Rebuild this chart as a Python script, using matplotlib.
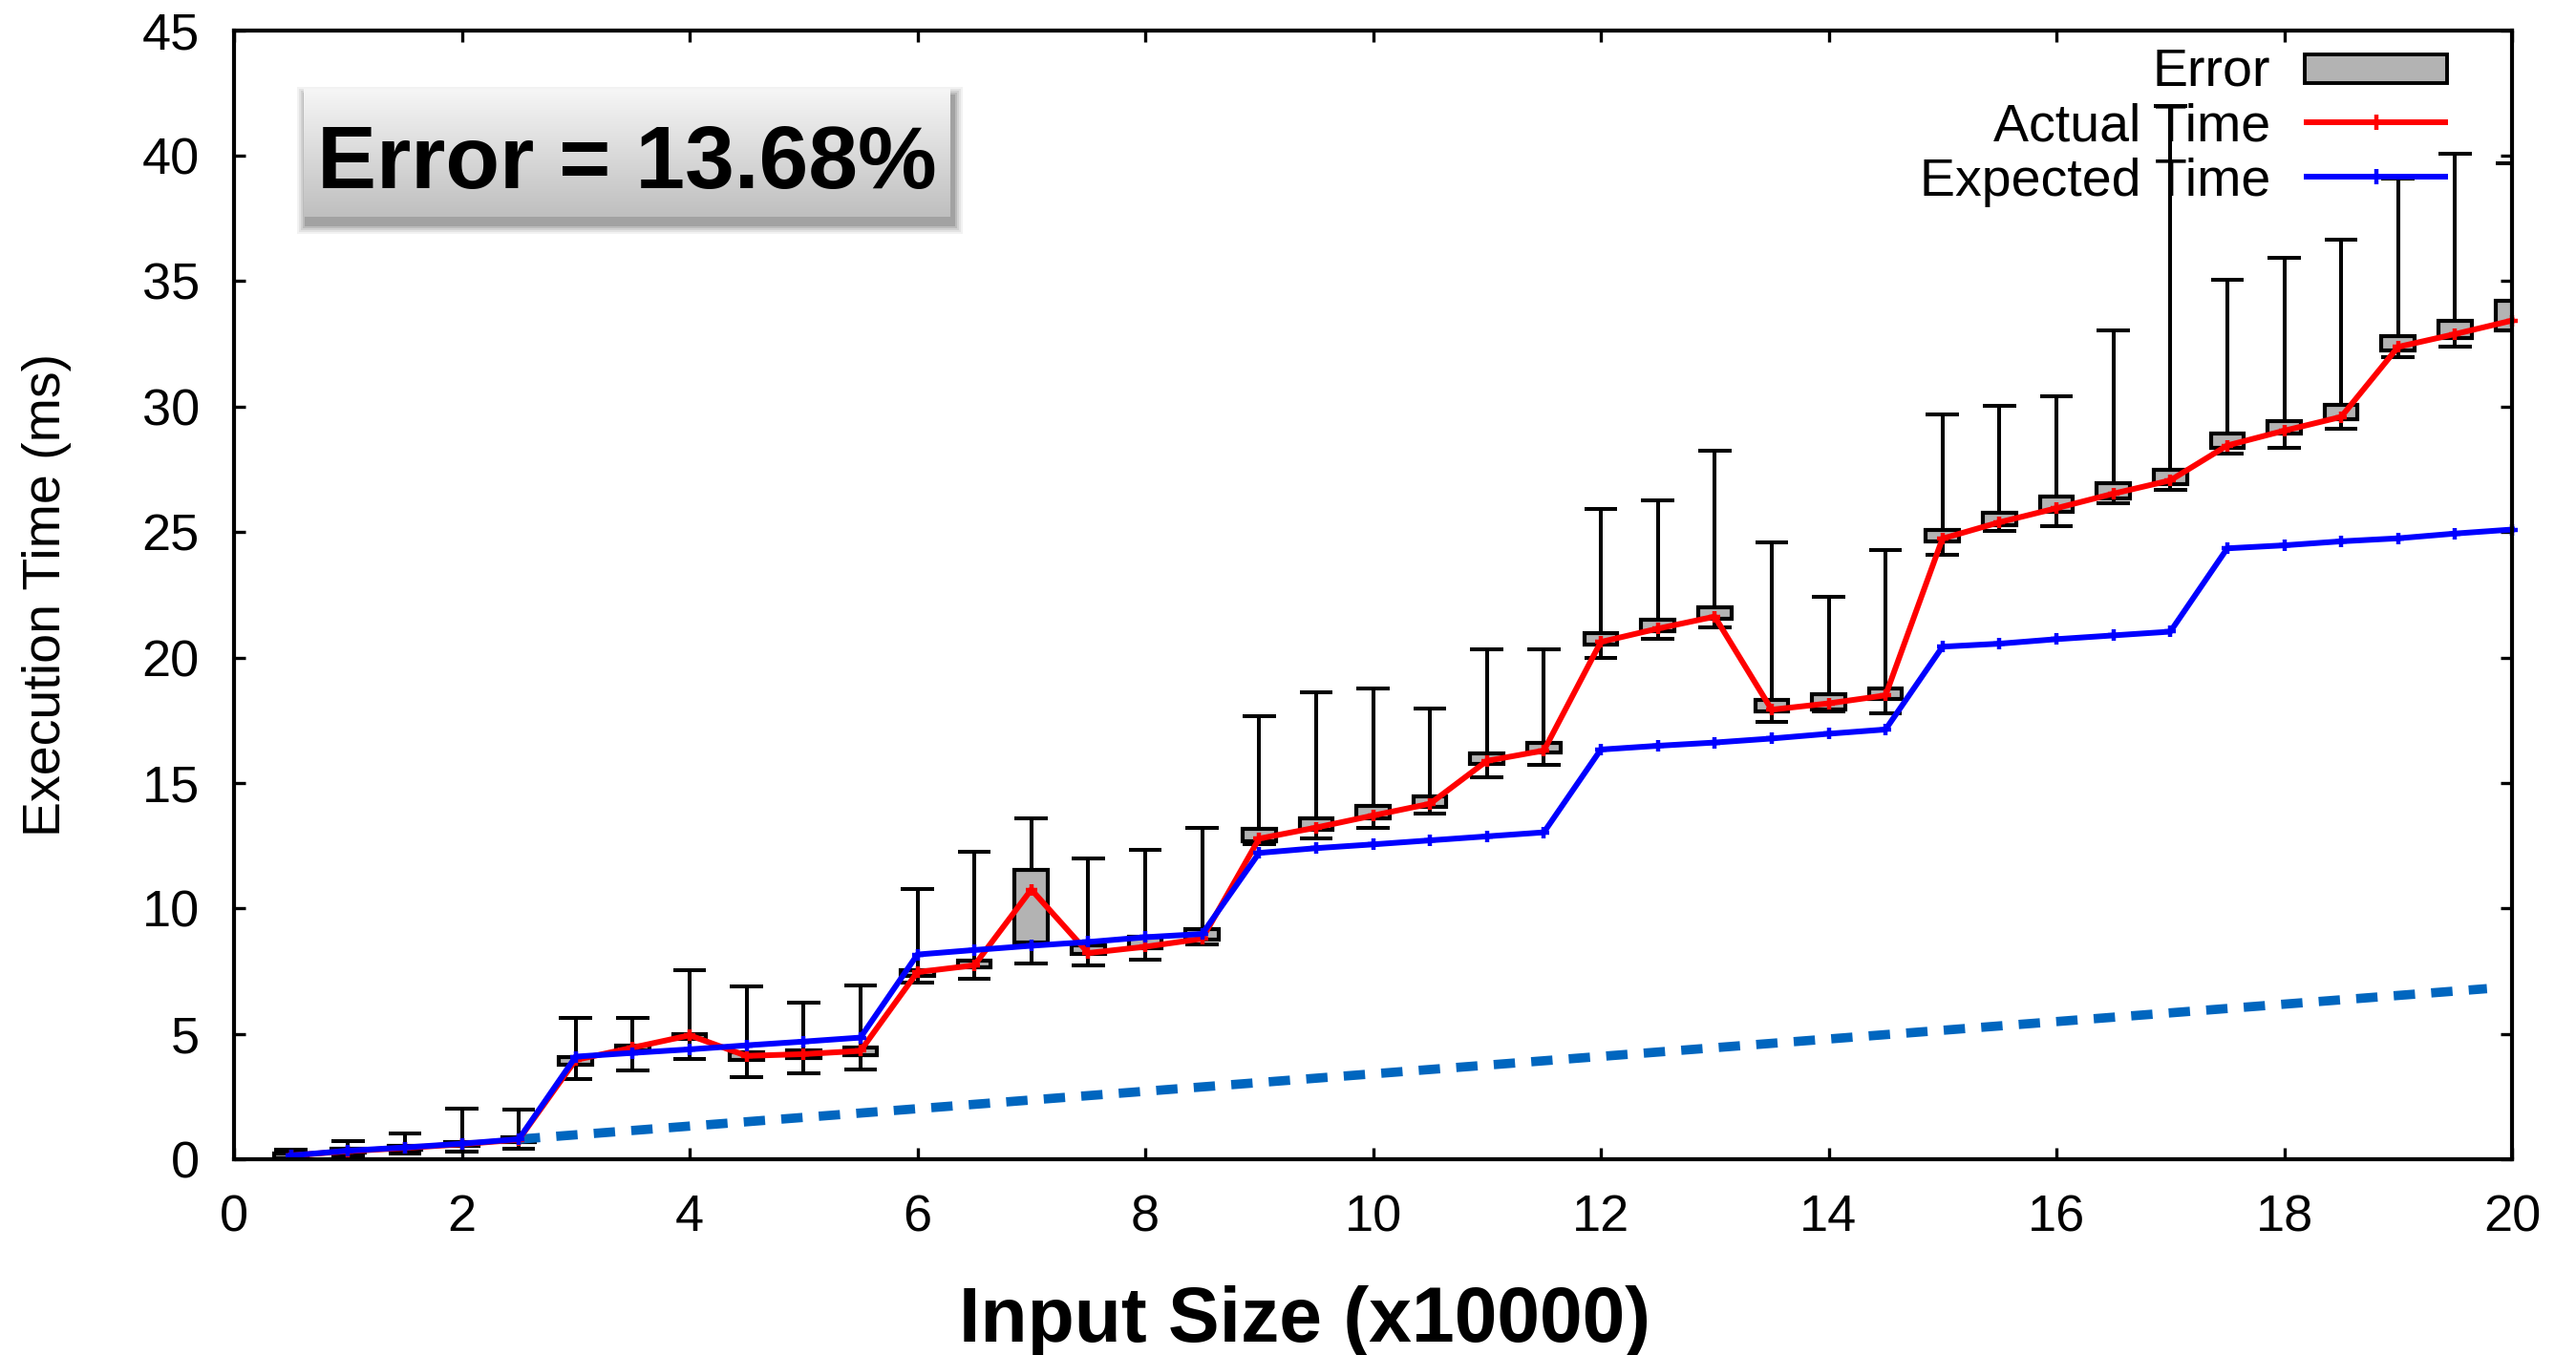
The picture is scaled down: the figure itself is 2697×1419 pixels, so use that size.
import numpy as np
import matplotlib
matplotlib.use("Agg")
import matplotlib.pyplot as plt
from matplotlib.patches import Rectangle
from matplotlib.lines import Line2D
from matplotlib.colors import LinearSegmentedColormap

plt.rcParams['font.family'] = ['Liberation Sans', 'DejaVu Sans']

# ---------------- data ----------------
input_size = [0.5, 1.0, 1.5, 2.0, 2.5, 3.0, 3.5, 4.0, 4.5, 5.0,
              5.5, 6.0, 6.5, 7.0, 7.5, 8.0, 8.5, 9.0, 9.5, 10.0,
              10.5, 11.0, 11.5, 12.0, 12.5, 13.0, 13.5, 14.0, 14.5, 15.0,
              15.5, 16.0, 16.5, 17.0, 17.5, 18.0, 18.5, 19.0, 19.5, 20.0]

actual_time = [0.15, 0.32, 0.45, 0.60, 0.78, 3.96, 4.45, 4.94, 4.12, 4.19,
               4.32, 7.46, 7.73, 10.75, 8.22, 8.47, 8.79, 12.78, 13.22, 13.70,
               14.17, 15.88, 16.29, 20.62, 21.15, 21.63, 17.92, 18.17, 18.49, 24.74,
               25.39, 25.95, 26.53, 27.06, 28.45, 29.04, 29.59, 32.38, 32.89, 33.43]

expected_time = [0.15, 0.34, 0.47, 0.62, 0.80, 4.09, 4.24, 4.38, 4.54, 4.69,
                 4.85, 8.16, 8.34, 8.51, 8.66, 8.85, 8.98, 12.21, 12.40, 12.55,
                 12.71, 12.87, 13.03, 16.33, 16.48, 16.61, 16.77, 16.96, 17.13, 20.43,
                 20.55, 20.73, 20.88, 21.03, 24.35, 24.47, 24.63, 24.75, 24.94, 25.10]

box_low = [0.05, 0.25, 0.38, 0.55, 0.70, 3.77, 4.35, 4.79, 3.94, 4.03,
           4.16, 7.30, 7.65, 8.63, 8.18, 8.43, 8.75, 12.69, 13.13, 13.60,
           14.05, 15.76, 16.20, 20.51, 21.05, 21.53, 17.85, 17.94, 18.36, 24.63,
           25.29, 25.80, 26.34, 26.90, 28.37, 28.94, 29.48, 32.23, 32.74, 33.05]

box_high = [0.22, 0.40, 0.55, 0.70, 0.86, 4.09, 4.54, 5.00, 4.26, 4.35,
            4.47, 7.52, 7.92, 11.54, 8.53, 8.85, 9.17, 13.16, 13.58, 14.08,
            14.46, 16.17, 16.58, 20.97, 21.49, 21.99, 18.32, 18.52, 18.76, 25.10,
            25.77, 26.43, 26.93, 27.48, 28.91, 29.44, 30.08, 32.80, 33.40, 34.20]

whisker_low = [0.02, 0.15, 0.22, 0.32, 0.41, 3.18, 3.55, 4.00, 3.27, 3.43,
               3.56, 7.04, 7.18, 7.80, 7.73, 7.96, 8.56, 12.55, 12.78, 13.20,
               13.79, 15.22, 15.72, 19.97, 20.73, 21.21, 17.43, 17.85, 17.79, 24.10,
               25.04, 25.24, 26.15, 26.69, 28.14, 28.37, 29.12, 31.98, 32.38, 33.05]

whisker_high = [0.38, 0.74, 1.04, 2.02, 1.98, 5.62, 5.65, 7.55, 6.89, 6.23,
                6.93, 10.76, 12.27, 13.58, 11.98, 12.33, 13.22, 17.66, 18.61, 18.76,
                17.95, 20.34, 20.34, 25.93, 26.28, 28.25, 24.60, 22.42, 24.29, 29.70,
                30.02, 30.40, 33.05, 42.00, 35.04, 35.93, 36.64, 39.10, 40.09, 39.70]

trend_x = [2.5, 19.78]
trend_y = [0.8, 6.8]

x_ticks = [0, 2, 4, 6, 8, 10, 12, 14, 16, 18, 20]
y_ticks = [0, 5, 10, 15, 20, 25, 30, 35, 40, 45]

legend_labels = ["Error", "Actual Time", "Expected Time"]
error_text = "Error = 13.68%"
x_label = "Input Size (x10000)"
y_label = "Execution Time (ms)"

# ---------------- figure ----------------
W, H = 2697, 1419
fig = plt.figure(figsize=(W / 100, H / 100), dpi=100)
fig.patch.set_facecolor('white')


def fx(px):
    return px / W


def fy(py):
    return 1 - py / H


ax = fig.add_axes([fx(245), fy(1214), (2630 - 245) / W, (1214 - 31.7) / H])

xs = np.array(input_size)
bl = np.array(box_low)
bh = np.array(box_high)
wl = np.array(whisker_low)
wh = np.array(whisker_high)
bw = 0.29
LW_LINE = 4.3
LW_WH = 2.9

# candlesticks
ax.vlines(xs, bh, wh, color='black', lw=LW_WH, zorder=2)
ax.vlines(xs, wl, bl, color='black', lw=LW_WH, zorder=2)
ax.hlines(wh, xs - bw / 2, xs + bw / 2, color='black', lw=LW_WH, zorder=2)
ax.hlines(wl, xs - bw / 2, xs + bw / 2, color='black', lw=LW_WH, zorder=2)
ax.bar(xs, bh - bl, bottom=bl, width=bw, color='#b3b3b3', edgecolor='black',
       linewidth=3.0, zorder=3)

# trend (dashed)
ax.plot(trend_x, trend_y, color='#0066BF', lw=7, dashes=(2.3, 1.75),
        solid_capstyle='butt', dash_capstyle='butt', zorder=4)

# lines
ax.plot(xs, actual_time, color='#ff0000', lw=LW_LINE, marker='+', ms=9, mew=3.2,
        zorder=5, clip_on=False)
ax.plot(xs, expected_time, color='#0000ff', lw=LW_LINE, marker='+', ms=9, mew=3.2,
        zorder=6, clip_on=False)

ax.set_xlim(0, 20)
ax.set_ylim(0, 45)
ax.set_xticks(x_ticks)
ax.set_yticks(y_ticks)
ax.tick_params(direction='in', length=8.6, width=2.4, top=True, right=True,
               labelsize=39, pad=26, colors='black')
for sp in ax.spines.values():
    sp.set_linewidth(3.0)
    sp.set_zorder(10)

# axis labels
fig.text(fx(49), fy(623), y_label, rotation=90, ha='center', va='center',
         fontsize=40)
fig.text(fx(1366), fy(1405), x_label, ha='center', va='baseline',
         fontsize=58, fontweight='bold')

# ---------------- legend (manual) ----------------
text_right = 2377
baselines = [90, 148, 205]
for lab, b in zip(legend_labels, baselines):
    fig.text(fx(text_right), fy(b), lab, ha='right', va='baseline', fontsize=40,
             zorder=20)
fig.add_artist(Rectangle((fx(2413), fy(87)), (2562 - 2413) / W, 30 / H,
                         transform=fig.transFigure, facecolor='#b3b3b3',
                         edgecolor='black', lw=2.8, zorder=20))
for yy, col in [(128, '#ff0000'), (185, '#0000ff')]:
    fig.add_artist(Line2D([fx(2415), fx(2560)], [fy(yy), fy(yy)],
                          transform=fig.transFigure, color=col, lw=LW_LINE,
                          zorder=20))
    fig.add_artist(Line2D([fx(2488)], [fy(yy)], transform=fig.transFigure,
                          color=col, marker='+', ms=11, mew=3.2, lw=0,
                          zorder=21))

# ---------------- "Error = ..." gradient box ----------------
bx0, by0, bx1, by1 = 318, 93, 995, 227
# soft shadow
for i, a in enumerate([0.05, 0.06, 0.08, 0.10, 0.13]):
    grow = 10 - 2 * i
    fig.add_artist(Rectangle((fx(bx0 - grow + 3), fy(by1 + 8 + grow)),
                             (bx1 - bx0 + 2 * grow) / W,
                             (by1 - by0 + 2 * grow) / H,
                             transform=fig.transFigure, facecolor='black',
                             edgecolor='none', alpha=a, zorder=14))
bx = fig.add_axes([fx(bx0), fy(by1), (bx1 - bx0) / W, (by1 - by0) / H])
bx.set_zorder(15)
cmap = LinearSegmentedColormap.from_list('g', ['#bfbfbf', '#f6f6f6'])
grad = np.linspace(0, 1, 256).reshape(-1, 1)
bx.imshow(grad, aspect='auto', cmap=cmap, origin='lower', extent=[0, 1, 0, 1])
bx.set_axis_off()
bx.text(0.5, (by1 - 197) / (by1 - by0), error_text, transform=bx.transAxes,
        ha='center', va='baseline', fontsize=67, fontweight='bold')

fig.savefig('out.png', dpi=100)
